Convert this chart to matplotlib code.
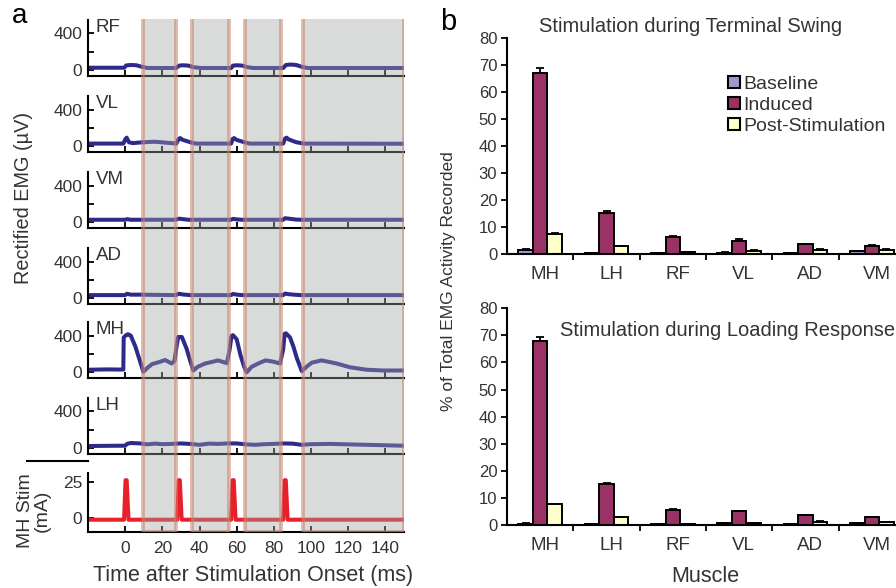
import matplotlib
matplotlib.use("Agg")
import matplotlib.pyplot as plt
from matplotlib.patches import Patch
import numpy as np

plt.rcParams['font.family'] = ['Liberation Sans', 'DejaVu Sans']

# ---------------- panel a data ----------------
rf_t = [-20, -0.5, 0.5, 3, 6, 9, 12, 27.5, 29, 31, 34, 37, 41, 57, 58, 60, 63, 66, 69, 85, 86.5, 89, 92, 95, 98, 150]
rf_v = [25, 25, 50, 55, 52, 35, 22, 22, 48, 52, 48, 30, 22, 22, 48, 52, 48, 30, 22, 22, 55, 60, 55, 35, 22, 22]

vl_t = [-20, -1, 0, 0.8, 2, 4, 10, 16, 22, 27.5, 28.8, 29.6, 31, 35, 38, 57, 57.8, 58.6, 60, 64, 67, 85, 86, 86.8, 88, 92, 96, 150]
vl_v = [30, 30, 75, 95, 45, 35, 45, 50, 40, 30, 80, 90, 70, 45, 30, 30, 80, 90, 70, 45, 30, 30, 85, 95, 75, 45, 30, 28]

vm_t = [-20, 0, 1, 3, 27, 29, 31, 34, 57, 58, 60, 63, 85, 86, 88, 92, 95, 150]
vm_v = [28, 28, 35, 28, 28, 40, 35, 28, 28, 38, 32, 28, 28, 45, 40, 30, 28, 28]

ad_t = [-20, 0, 1, 3, 8, 27, 29, 31, 35, 57, 58, 60, 63, 85, 86, 88, 92, 95, 150]
ad_v = [35, 35, 50, 40, 40, 35, 50, 42, 35, 35, 48, 40, 35, 35, 52, 45, 38, 35, 35]

mh_t = [-20, -10, -1, -0.8, 0.5, 1.5, 3, 5.5, 8, 9.8, 12, 14.5, 18, 21.5, 25, 26.5, 27.8, 28.5, 30.5, 33,
        35, 36.7, 39, 43, 47, 50, 54.7, 56.2, 57.2, 58, 60, 62, 64, 65.4, 68, 72, 75.5, 80, 83.3, 85,
        85.8, 86.5, 88.7, 90.5, 92.3, 95, 97.5, 100.4, 105.7, 113.8, 121, 130, 139, 150]
mh_v = [28, 32, 30, 380, 405, 415, 400, 280, 120, 5, 50, 90, 110, 134, 96, 124, 300, 385, 385, 260,
        124, 20, 60, 96, 115, 130, 100, 250, 395, 405, 360, 190, 60, 0, 60, 100, 130, 115, 96, 250,
        420, 425, 380, 280, 158, 13, 60, 106, 130, 96, 55, 28, 20, 20]

lh_t = [-20, -5, 0, 1, 3, 8, 12, 16, 20, 25, 30, 35, 40, 45, 50, 55, 60, 65, 70, 75, 80, 85, 90, 95, 100, 110, 120, 130, 140, 150]
lh_v = [22, 25, 25, 45, 55, 50, 40, 48, 42, 45, 50, 45, 35, 48, 45, 50, 50, 40, 35, 42, 45, 50, 48, 35, 42, 45, 40, 35, 30, 25]

stim_t = [-20, -0.6, 0.2, 0.8, 1.8, 28.0, 28.8, 29.4, 30.4, 57.0, 57.8, 58.4, 59.4, 85.0, 85.8, 86.4, 87.4, 150]
stim_v = [-1, -1, 26, 26, -1, -1, 26, 26, -1, -1, 26, 26, -1, -1, 26, 26, -1, -1]

emg_names = ["RF", "VL", "VM", "AD", "MH", "LH"]
emg_traces = [(rf_t, rf_v), (vl_t, vl_v), (vm_t, vm_v), (ad_t, ad_v), (mh_t, mh_v), (lh_t, lh_v)]

# shaded analysis windows (ms)
windows = [(9.5, 27.2), (36.2, 56.0), (64.5, 83.9), (95.5, 150.0)]

# ---------------- panel b data ----------------
muscles = ["MH", "LH", "RF", "VL", "AD", "VM"]
series = ["Baseline", "Induced", "Post-Stimulation"]

swing_base = [1.5, 0.2, 0.2, 0.5, 0.2, 1.0]
swing_base_err = [0.5, 0.0, 0.0, 0.1, 0.0, 0.2]
swing_ind = [67.0, 15.3, 6.2, 5.0, 3.6, 2.9]
swing_ind_err = [1.9, 0.8, 0.4, 0.5, 0.2, 0.4]
swing_post = [7.6, 2.9, 0.6, 1.2, 1.6, 1.6]
swing_post_err = [0.3, 0.2, 0.1, 0.1, 0.1, 0.1]

load_base = [0.5, 0.2, 0.2, 0.6, 0.2, 0.7]
load_base_err = [0.1, 0.0, 0.0, 0.1, 0.0, 0.1]
load_ind = [67.9, 15.0, 5.7, 5.0, 3.6, 2.9]
load_ind_err = [1.6, 0.6, 0.2, 0.3, 0.2, 0.2]
load_post = [7.6, 2.8, 0.4, 0.6, 1.2, 1.1]
load_post_err = [0.3, 0.2, 0.0, 0.1, 0.1, 0.1]

bar_colors = ["#9a9acd", "#993366", "#ffffcc"]

# ---------------- figure ----------------
W, H = 896, 588
fig = plt.figure(figsize=(W / 100, H / 100), dpi=100)

def px_axes(l, t, r, b):
    return fig.add_axes([l / W, 1 - b / H, (r - l) / W, (b - t) / H])

txt = "#333333"
blue = "#2e2a8c"
red = "#e8202a"

# panel a: six EMG strips
bottoms = [76, 152.3, 228.3, 304.3, 378.3, 454]
for name, (t, v), b in zip(emg_names, emg_traces, bottoms):
    ax = px_axes(88, b - 56, 404, b)
    ax.plot(t, v, color=blue, lw=2.9, solid_capstyle="round", solid_joinstyle="round")
    ax.set_xlim(-20, 150)
    ax.set_ylim(-65, 545)
    ax.set_yticks([0, 200, 400])
    ax.set_yticklabels(["0", "", "400"])
    ax.set_xticks(range(0, 150, 20))
    ax.set_xticklabels([])
    for s in ["top", "right"]:
        ax.spines[s].set_visible(False)
    for s in ["left", "bottom"]:
        ax.spines[s].set_linewidth(1.5)
    ax.tick_params(direction="in", length=4, width=1.3, labelsize=12.5, labelcolor=txt, pad=4)
    ax.patch.set_alpha(0)
    ax.text(0.025, 1.02, name, transform=ax.transAxes, ha="left", va="top",
            fontsize=13.5, color=txt)

# stimulation strip
ax = px_axes(88, 473.3, 404, 532.3)
ax.plot(stim_t, stim_v, color=red, lw=2.9, solid_joinstyle="round")
ax.set_xlim(-20, 150)
ax.set_ylim(-9.6, 30.7)
ax.set_yticks([0, 25])
ax.set_xticks(range(0, 150, 20))
for s in ["top", "right"]:
    ax.spines[s].set_visible(False)
for s in ["left", "bottom"]:
    ax.spines[s].set_linewidth(1.5)
ax.tick_params(direction="in", length=4, width=1.3, labelsize=12.5, labelcolor=txt, pad=4)
ax.tick_params(axis="x", pad=6)
ax.patch.set_alpha(0)

# overlay of the windows across all strips
ov = px_axes(88, 19, 404, 532.3)
ov.set_xlim(-20, 150)
ov.set_ylim(0, 1)
ov.axis("off")
for x0, x1 in windows:
    ov.axvspan(x0, x1, color=(160 / 255, 164 / 255, 164 / 255), alpha=0.4, lw=0)
    ov.vlines([x0, x1], 0, 1, color="#c8806a", alpha=0.55, lw=2.8)
    ov.hlines(0, x0, x1, color="#c8806a", alpha=0.55, lw=2.8)

fig.text(24 / W, 1 - 198 / H, "Rectified EMG (\u00b5V)", rotation=90, ha="center", va="center",
         fontsize=14.3, color=txt)
fig.text(34 / W, 1 - 511 / H, "MH Stim\n(mA)", rotation=90, ha="center", va="center",
         fontsize=14, color=txt, linespacing=1.0)
fig.add_artist(plt.Line2D([27 / W, 88 / W], [1 - 461 / H, 1 - 461 / H], color="black", lw=1.5))
fig.text(253 / W, 1 - 576 / H, "Time after Stimulation Onset (ms)", ha="center", va="center",
         fontsize=15.5, color=txt)
fig.text(20 / W, 1 - 16 / H, "a", ha="center", va="center", fontsize=20, color="black")

# panel b: bar charts
x = np.arange(len(muscles))
bw = 0.22

def bar_panel(ax, base, base_err, ind, ind_err, post, post_err):
    vals = [base, ind, post]
    errs = [base_err, ind_err, post_err]
    for k in range(3):
        e = np.array(errs[k])
        ax.bar(x + (k - 1) * bw, vals[k], bw, color=bar_colors[k], edgecolor="black", lw=1.4,
               yerr=[np.zeros_like(e), e], capsize=3, error_kw=dict(elinewidth=1.3, capthick=1.3),
               zorder=2)
    ax.set_xlim(-0.5, 5.5)
    ax.set_ylim(0, 80)
    ax.set_yticks(range(0, 81, 10))
    ax.set_xticks(np.arange(0.5, 6, 1))
    ax.set_xticklabels([])
    ax.set_xticks(x + 0.07, minor=True)
    ax.set_xticklabels(muscles, minor=True)
    ax.tick_params(axis="x", which="minor", length=0, pad=9, labelsize=13.5, labelcolor=txt)
    ax.tick_params(axis="x", which="major", direction="out", length=4, width=1.3)
    ax.tick_params(axis="y", direction="out", length=4, width=1.3, labelsize=12, labelcolor=txt, pad=3)
    for s in ["top", "right"]:
        ax.spines[s].set_visible(False)
    for s in ["left", "bottom"]:
        ax.spines[s].set_linewidth(1.5)
    ax.patch.set_alpha(0)

axb1 = px_axes(507, 38.3, 905, 254)
bar_panel(axb1, swing_base, swing_base_err, swing_ind, swing_ind_err, swing_post, swing_post_err)
axb2 = px_axes(507, 308.3, 905, 525)
bar_panel(axb2, load_base, load_base_err, load_ind, load_ind_err, load_post, load_post_err)

fig.text(691 / W, 1 - 26 / H, "Stimulation during Terminal Swing", ha="center", va="center",
         fontsize=14.5, color=txt)
fig.text(560 / W, 1 - 330 / H, "Stimulation during Loading Response", ha="left", va="center",
         fontsize=14.5, color=txt)
fig.text(705 / W, 1 - 577 / H, "Muscle", ha="center", va="center", fontsize=15.5, color=txt)
fig.text(448 / W, 1 - 281 / H, "% of Total EMG Activity Recorded", rotation=90, ha="center",
         va="center", fontsize=12.5, color=txt)
fig.text(448 / W, 1 - 22 / H, "b", ha="center", va="center", fontsize=21, color="black")

handles = [Patch(facecolor=c, edgecolor="black", lw=1.5) for c in bar_colors]
fig.legend(handles, series, loc="upper left", bbox_to_anchor=(728 / W, 1 - 76 / H),
           frameon=False, fontsize=14, handlelength=0.6, handleheight=0.6, handletextpad=0.2,
           labelspacing=0.2, borderpad=0, borderaxespad=0, labelcolor=txt)

fig.savefig("out.png", dpi=100)
